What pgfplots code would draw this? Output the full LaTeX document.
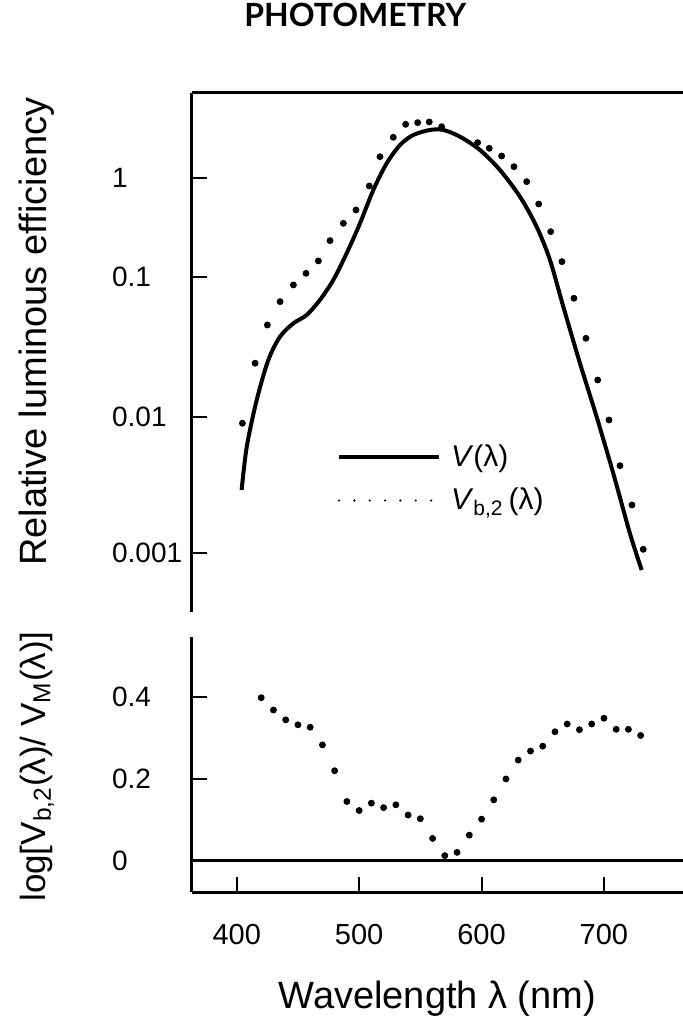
\documentclass[border=0pt]{standalone}
\usepackage{fontspec}
\setmainfont{Liberation Sans}
\newfontfamily\titlefont{Lato}
\usepackage{pgfplots}
\usepackage{pgfplotstable}
\pgfplotsset{compat=1.18}

% upper panel, values given as log10 of the relative efficiency
\pgfplotstableread{
lam   L
404.0 -2.537
408.2 -2.218
416.3 -1.879
425.8 -1.593
435.4 -1.426
446.3 -1.331
457.2 -1.271
468.0 -1.164
478.9 -1.021
489.8 -0.761
500.7 -0.458
511.6 -0.121
522.5 0.148
533.4 0.333
544.2 0.434
557.9 0.485
568.8 0.485
582.4 0.417
598.7 0.283
615.0 0.081
631.4 -0.189
645.0 -0.492
655.9 -0.828
666.8 -1.212
680.4 -1.616
694.0 -1.998
707.6 -2.414
721.2 -2.855
730.8 -3.125
}\Vlam

\pgfplotstableread{
lam   L
404.6 -2.046
415.0 -1.616
425.0 -1.343
435.4 -1.176
446.3 -1.057
456.6 -0.963
466.7 -0.838
476.2 -0.633
487.1 -0.458
497.4 -0.323
508.3 -0.081
517.0 0.215
527.9 0.411
538.0 0.542
547.8 0.559
557.3 0.566
567.4 0.518
596.8 0.357
606.3 0.300
616.4 0.222
626.5 0.114
636.9 -0.037
646.7 -0.263
656.5 -0.542
665.7 -0.845
675.5 -1.152
685.3 -1.438
694.9 -1.736
704.1 -2.022
713.1 -2.358
722.9 -2.647
732.1 -2.973
}\Vbtwo

% lower panel: log ratio
\pgfplotstableread{
lam r
420 0.398
430 0.368
440 0.344
450 0.332
460 0.326
470 0.283
480 0.220
490 0.145
500 0.123
510 0.141
520 0.130
530 0.137
540 0.112
550 0.103
560 0.055
570 0.013
580 0.021
590 0.063
600 0.102
610 0.149
620 0.200
630 0.246
640 0.268
650 0.280
660 0.315
670 0.334
680 0.320
690 0.334
700 0.348
710 0.321
720 0.321
730 0.306
}\ratio

\begin{document}
\begin{tikzpicture}
\pgfplotsset{
  panel/.style={
    scale only axis, width=245.65pt,
    xmin=363.2, xmax=764.6,
    axis y line*=left,
    axis line style={line width=1.5pt, -},
    tick align=inside,
    major tick length=7.5pt,
    tick style={line width=1pt, black},
    /pgf/number format/assume math mode=true,
    yticklabel style={anchor=west, xshift=-40pt, inner sep=0pt,
      font=\fontsize{14}{16}\selectfont},
    xticklabel style={font=\fontsize{14.5}{16}\selectfont},
  },
}
\begin{axis}[panel, name=top, at={(0,140pt)}, anchor=south west,
  height=259.5pt,
  axis x line*=top, xtick=\empty,
  % the decades of the original figure are not evenly spaced
  y coord trafo/.code={\pgfmathparse{ifthenelse(#1<-2, #1+3,
      ifthenelse(#1<-1, 1+(#1+2)*1.02941, 2.02941+(#1+1)*0.72794))}},
  ymin=-3.434, ymax=0.8586,
  ytick={-3,-2,-1,0}, yticklabels={0.001,0.01,0.1,1},
  ylabel={Relative luminous efficiency},
  ylabel style={at={(axis description cs:-0.316,0.54)}, anchor=center,
    font=\fontsize{19}{21}\selectfont},
  title={\titlefont\bfseries PHOTOMETRY},
  title style={at={(axis description cs:0.333,1.128)}, anchor=center,
    yshift=0pt, font=\fontsize{16}{18}\selectfont},
  legend style={at={(rel axis cs:0.295,0.257)}, anchor=west,
    draw=none, fill=none, inner sep=0pt, row sep=5.5pt,
    font=\fontsize{15}{17}\selectfont, cells={anchor=west},
    /tikz/every odd column/.append style={column sep=3pt}},
]
\addplot[black, line width=2pt, smooth,
  legend image code/.code={\draw[line width=2pt] (0pt,0pt) -- (50pt,0pt);}]
  table[x=lam, y=L] {\Vlam};
\addlegendentry{\textit{V}(λ)}
\addplot[black, only marks, mark=*, mark size=1.5pt,
  legend image code/.code={\draw[solid, line width=1.2pt, line cap=round,
    dash pattern=on 0pt off 7.67pt] (0pt,0pt) -- (46.5pt,0pt);}]
  table[x=lam, y=L] {\Vbtwo};
\addlegendentry{\textit{V}\textsubscript{b,2}\,(λ)}
\end{axis}

\begin{axis}[panel, name=bot, at={(0,0)}, anchor=south west,
  height=127.5pt,
  axis x line*=bottom,
  ymin=-0.0756, ymax=0.546,
  xtick={400,500,600,700},
  ytick={0.2,0.4}, yticklabels={0.2,0.4},
  extra y ticks={0}, extra y tick labels={0},
  extra y tick style={major tick length=0pt, grid=major,
    major grid style={line width=1.5pt, black}},
  xticklabel style={yshift=-12.5pt},
  xlabel={Wavelength λ (nm)},
  xlabel style={at={(axis description cs:0.5,0)}, yshift=-53.5pt,
    anchor=center, font=\fontsize{19}{21}\selectfont},
  ylabel={log[V\textsubscript{b,2}(λ)/ V\textsubscript{M}(λ)]},
  ylabel style={at={(axis description cs:-0.315,0.492)}, anchor=center,
    font=\fontsize{17.5}{20}\selectfont},
]
\addplot[black, only marks, mark=*, mark size=1.5pt]
  table[x=lam, y=r] {\ratio};
\end{axis}
\pgfresetboundingbox
\path[use as bounding box] (-95.85pt,-62pt) rectangle (245.65pt,446pt);
\end{tikzpicture}
\end{document}
